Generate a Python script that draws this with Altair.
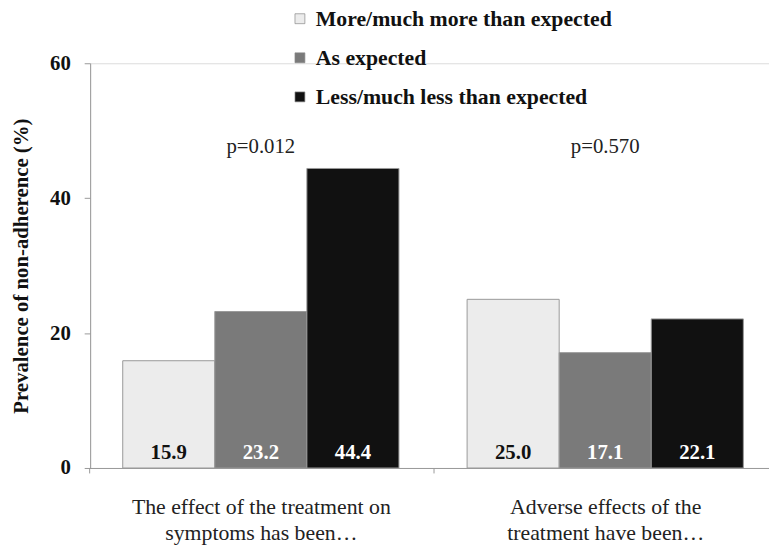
import altair as alt
import pandas as pd

groups = ["The effect of the treatment on|symptoms has been…",
          "Adverse effects of the|treatment have been…"]
categories = ["More/much more than expected", "As expected", "Less/much less than expected"]
values_g1 = [15.9, 23.2, 44.4]
values_g2 = [25.0, 17.1, 22.1]
p_values = ["p=0.012", "p=0.570"]
colors = ["#ececec", "#7a7a7a", "#111111"]
y_ticks = [0, 20, 40, 60]

rows = []
for g, vals in zip(groups, [values_g1, values_g2]):
    for c, v in zip(categories, vals):
        rows.append({"group": g, "cat": c, "value": v, "label": f"{v:.1f}"})
df = pd.DataFrame(rows)
pdf = pd.DataFrame({"group": groups, "p": p_values})

FONT = "Liberation Serif"
W, H = 686, 409

xscale = alt.Scale(domain=groups, range=[-1.5, 694.5], paddingInner=0, paddingOuter=0)
xoff = alt.Scale(domain=categories, paddingInner=0, paddingOuter=0.37)

x_enc = alt.X("group:N", scale=xscale, sort=groups,
              axis=alt.Axis(title=None, labelExpr="split(datum.label, '|')",
                            labelFont=FONT, labelFontSize=22, labelColor="#222",
                            labelAngle=0, labelPadding=24, labelLineHeight=26,
                            labelLimit=0,
                            tickBand="extent", tickColor="#999", tickSize=5,
                            domainColor="#999"))

bars = alt.Chart(df).mark_bar(stroke="#999", strokeWidth=1).encode(
    x=x_enc,
    xOffset=alt.XOffset("cat:N", scale=xoff, sort=categories),
    y=alt.Y("value:Q", scale=alt.Scale(domain=[0, 60], nice=False),
            axis=alt.Axis(values=y_ticks, title="Prevalence of non-adherence (%)",
                          titleFont=FONT, titleFontSize=21, titleFontWeight="bold",
                          titleColor="#111", titlePadding=18,
                          labelFont=FONT, labelFontSize=21, labelFontWeight="bold",
                          labelColor="#111", labelPadding=14, tickSize=6,
                          tickColor="#999", domainColor="#999", grid=False)),
    color=alt.Color("cat:N", scale=alt.Scale(domain=categories, range=colors),
                    sort=categories,
                    legend=alt.Legend(title=None, orient="none", legendX=201, legendY=-56,
                                      symbolType="square", symbolSize=100,
                                      symbolStrokeColor="#888", symbolStrokeWidth=0.7,
                                      labelFont=FONT, labelFontSize=22,
                                      labelFontWeight="bold", labelColor="#111",
                                      labelLimit=0, rowPadding=17.5, labelOffset=5)),
)

vals = alt.Chart(df).mark_text(font=FONT, fontSize=21, fontWeight="bold",
                               baseline="bottom", dy=-5).encode(
    x=alt.X("group:N", scale=xscale, sort=groups),
    xOffset=alt.XOffset("cat:N", scale=xoff, sort=categories),
    y=alt.datum(0),
    text="label:N",
    color=alt.condition(alt.datum.cat == categories[0], alt.value("#111"), alt.value("white")),
)

ptext = alt.Chart(pdf).mark_text(font=FONT, fontSize=21, color="#222",
                                 baseline="alphabetic").encode(
    x=alt.X("group:N", scale=xscale, sort=groups),
    y=alt.value(91),
    text="p:N",
)

chart = alt.layer(bars, vals, ptext).properties(
    width=W, height=H,
    autosize=alt.AutoSizeParams(type="none"),
    padding={"left": 83, "top": 53, "right": 0, "bottom": 75},
).configure_view(stroke=None).configure(background="white")

chart.save("out.html", embed_options={"renderer": "svg", "actions": False})
